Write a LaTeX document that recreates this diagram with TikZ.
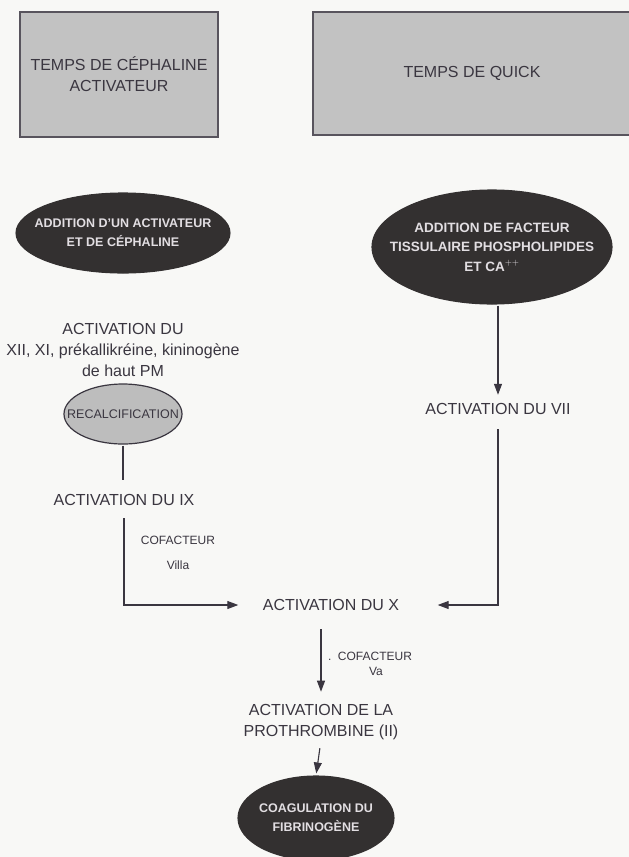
\documentclass[tikz,border=0pt]{standalone}
\usepackage{fontspec}
\setmainfont{Liberation Sans}
\usetikzlibrary{shapes.geometric,arrows.meta}

\definecolor{ink}{HTML}{3A3640}
\definecolor{boxgray}{HTML}{C2C2C2}
\definecolor{ovalfill}{HTML}{333030}
\definecolor{ovaltext}{HTML}{E2DEE2}
\definecolor{paper}{HTML}{F8F8F6}
\definecolor{lightoval}{HTML}{BDBDBD}

\begin{document}
\begin{tikzpicture}[x=1pt, y=-1pt, line width=1.1pt,
    every node/.style={text=ink, font=\fontsize{16}{21}\selectfont, align=center, inner sep=0pt},
    titlebox/.style={rectangle, draw=ink!85, fill=boxgray, line width=1.3pt},
    darkoval/.style={ellipse, inner xsep=-15pt, fill=ovalfill, draw=ovalfill, text=ovaltext,
        font=\bfseries\fontsize{12.5}{19}\selectfont},
    greyoval/.style={ellipse, inner xsep=-15pt, fill=lightoval, draw=ink, line width=1.2pt,
        font=\fontsize{12.5}{14}\selectfont},
    small/.style={font=\fontsize{12}{25}\selectfont},
    arr/.style={draw=ink, -{Triangle[length=11pt,width=8pt]}},
    link/.style={draw=ink}]
  \useasboundingbox (0,0) rectangle (629,857);
  \fill[paper] (0,0) rectangle (629,857);

  % title boxes
  \node[titlebox, minimum width=198pt, minimum height=125pt] (cephbox) at (119,74.5)
      {TEMPS DE CÉPHALINE\\ACTIVATEUR};
  \node[titlebox, minimum width=318pt, minimum height=123pt] (quickbox) at (472,73.5)
      {TEMPS DE QUICK};

  % left branch
  \node[darkoval, minimum width=214pt, minimum height=80pt] (addceph) at (123,233)
      {ADDITION D'UN ACTIVATEUR\\ET DE CÉPHALINE};
  \node (actxii) at (123,350) {ACTIVATION DU\\XII, XI, prékallikréine, kininogène\\de haut PM};
  \node[greyoval, minimum width=118pt, minimum height=60pt] (recalc) at (123,414) {RECALCIFICATION};
  \node (actix) at (124,500) {ACTIVATION DU IX};
  \node[small] (cofviii) at (178,553) {COFACTEUR\\Villa};

  % right branch
  \node[darkoval, inner xsep=-22pt, minimum width=240pt, minimum height=114pt,
      font=\bfseries\fontsize{13.5}{19.5}\selectfont] (addtiss) at (492,247)
      {ADDITION DE FACTEUR\\TISSULAIRE PHOSPHOLIPIDES\\ET CA$^{++}$};
  \node (actvii) at (498,409) {ACTIVATION DU VII};

  % common pathway
  \node (actx) at (331,605) {ACTIVATION DU X};
  \node[font=\fontsize{12}{15}\selectfont] (cofv) at (370,664) {.~~COFACTEUR\\\hspace*{12pt}Va};
  \node (prothr) at (321,722) {ACTIVATION DE LA\\PROTHROMBINE (II)};
  \node[darkoval, minimum width=156pt, minimum height=84pt] (coag) at (316,818)
      {COAGULATION DU\\FIBRINOGÈNE};

  % connectors
  \draw[link, shorten <=1pt, shorten >=14pt] (recalc.south) -- (actix.north -| recalc.south);
  \draw[arr, shorten <=12pt, shorten >=24pt] (actix.south) |- (actx.west);
  \draw[arr, shorten <=1pt, shorten >=8pt] (addtiss.south -| actvii.north) -- (actvii.north);
  \draw[arr, shorten <=14pt, shorten >=38pt] (actvii.south) |- (actx.east);
  \draw[arr, shorten <=18pt, shorten >=12pt] (prothr.north |- actx.south) -- (prothr.north);
  \draw[arr, shorten <=8pt, shorten >=2pt] (prothr.south) -- (coag.north);
\end{tikzpicture}
\end{document}
